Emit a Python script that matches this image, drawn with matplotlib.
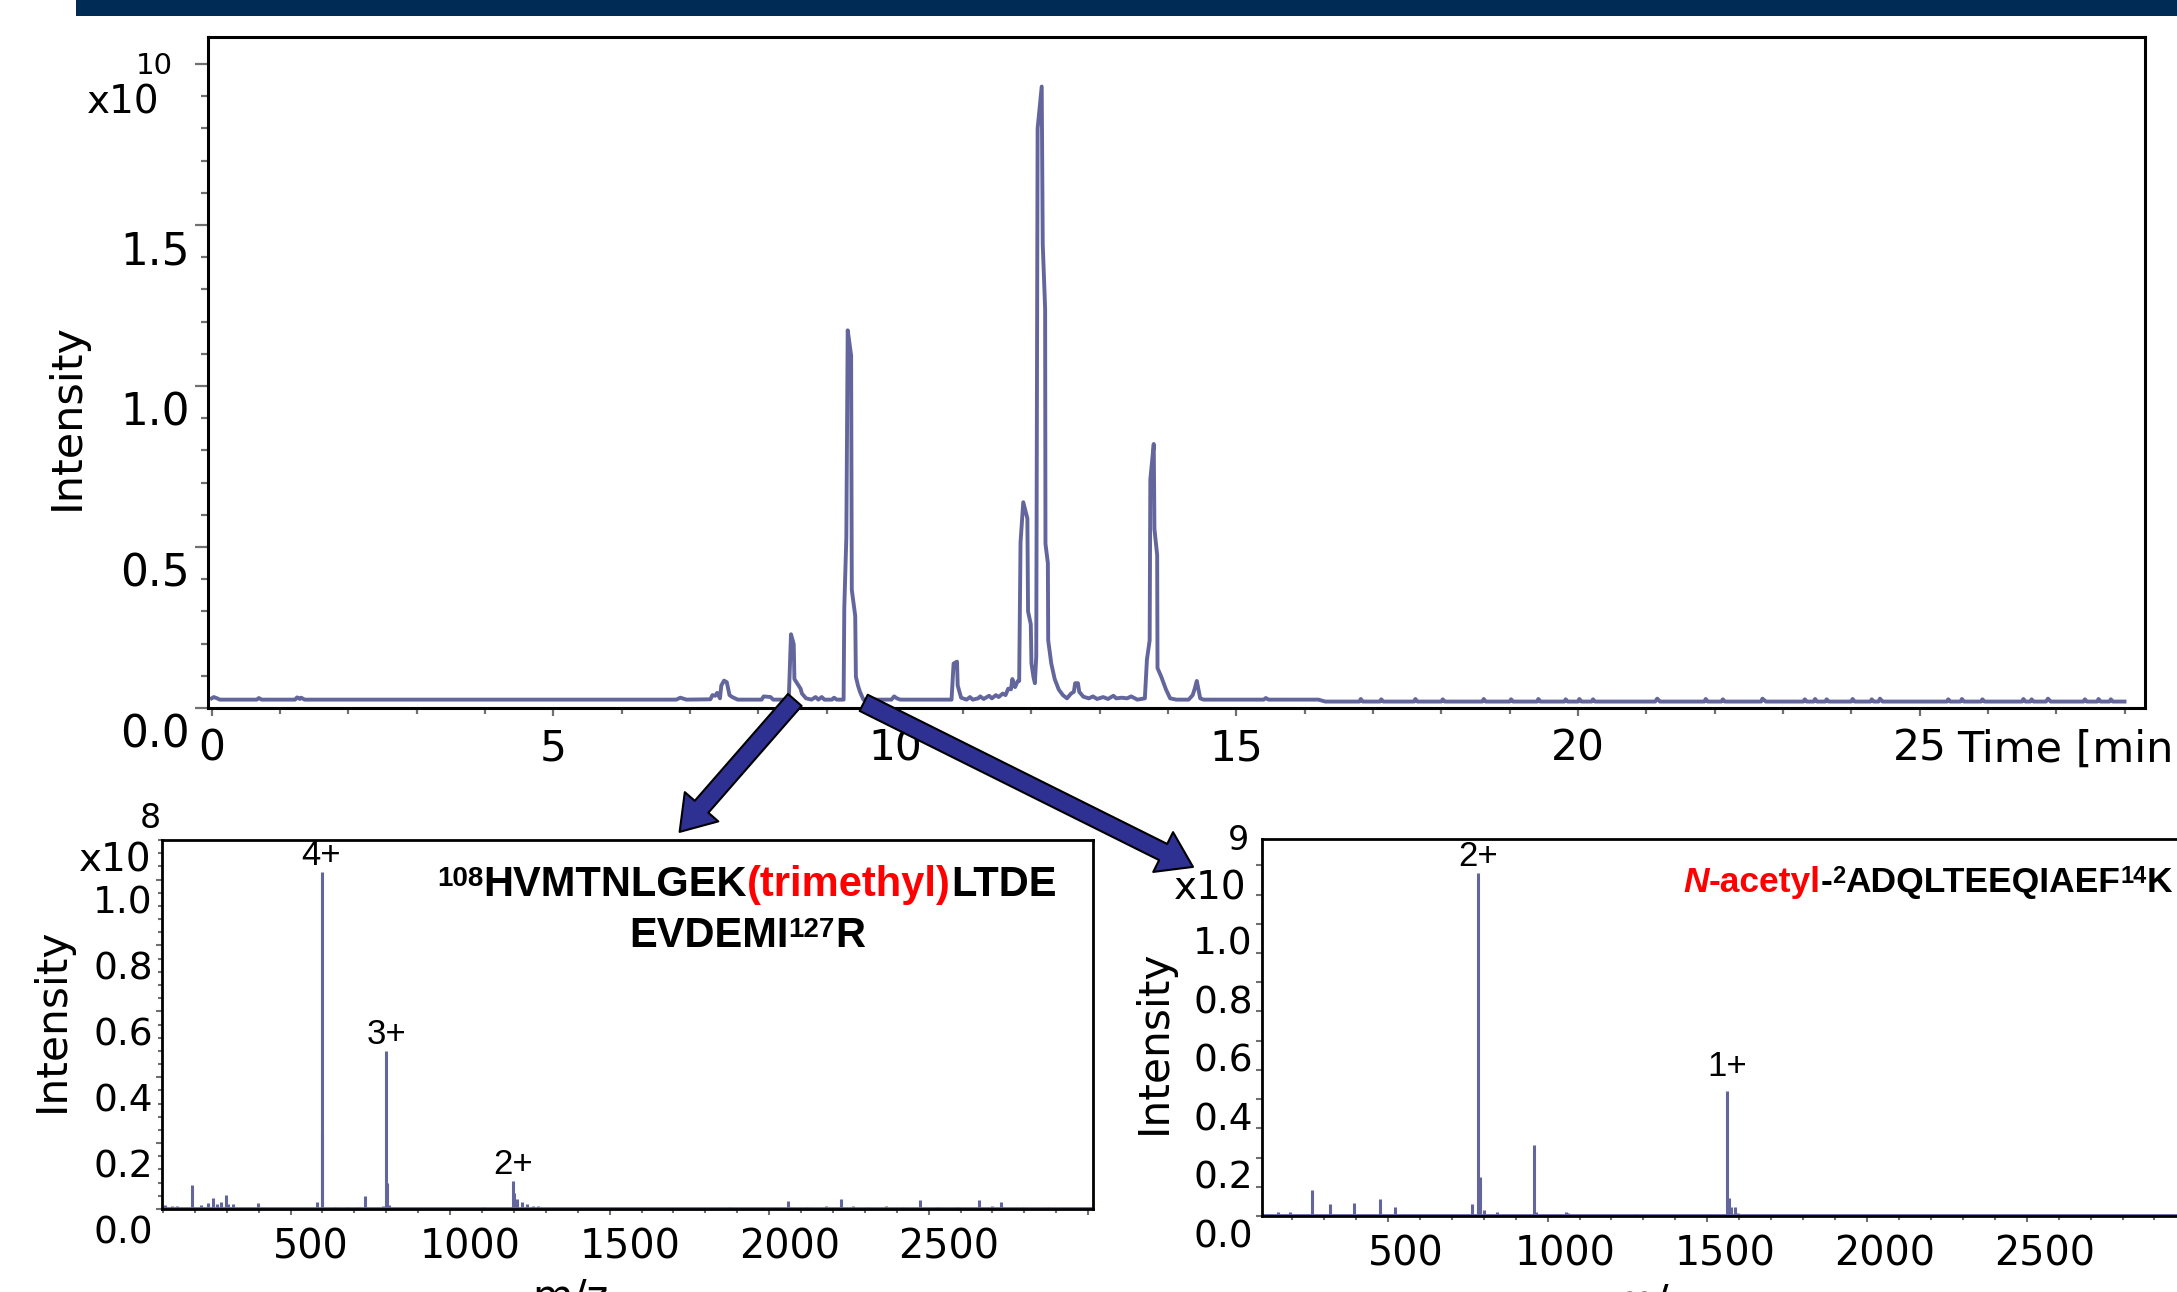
import matplotlib
matplotlib.use('Agg')
import matplotlib.pyplot as plt
from matplotlib.patches import Rectangle, ConnectionPatch, ArrowStyle
from matplotlib.ticker import FixedLocator, MultipleLocator
from matplotlib.transforms import ScaledTranslation, IdentityTransform

W, H = 2177, 1292
TRACE = '#62669c'
ARROW = '#2e3192'
BAR = '#002b54'
TICK = '#707070'
PEP_FONT = 'Liberation Sans'

# base peak chromatogram: time (min) and intensity (x1e10)
time_min = [0.00, 0.03, 0.08, 0.12, 0.66, 0.69, 0.73, 1.22, 1.25, 1.29, 1.31, 1.36,
            6.80, 6.86, 6.95, 7.30, 7.33, 7.37, 7.40, 7.44, 7.46, 7.50, 7.54, 7.58, 7.62, 7.70,
            8.05, 8.08, 8.18, 8.22, 8.40, 8.45, 8.48, 8.52, 8.53, 8.56, 8.59, 8.62, 8.64, 8.70,
            8.78, 8.84, 8.88, 8.93, 8.97, 9.08, 9.11, 9.15, 9.25, 9.26, 9.29, 9.31, 9.36, 9.37,
            9.42, 9.43, 9.46, 9.49, 9.54, 9.95, 9.99, 10.03, 10.08, 10.83, 10.86, 10.91, 10.92,
            10.97, 11.05, 11.10, 11.14, 11.22, 11.25, 11.30, 11.38, 11.42, 11.48, 11.52, 11.58,
            11.62, 11.66, 11.70, 11.72, 11.76, 11.80, 11.82, 11.84, 11.88, 11.94, 11.95, 11.99,
            12.00, 12.03, 12.05, 12.07, 12.09, 12.15, 12.165, 12.20, 12.205, 12.24, 12.245,
            12.29, 12.34, 12.40, 12.46, 12.52, 12.58, 12.62, 12.64, 12.68, 12.70, 12.76, 12.84,
            12.90, 12.96, 13.05, 13.12, 13.20, 13.24, 13.32, 13.40, 13.46, 13.55, 13.66, 13.69,
            13.73, 13.74, 13.79, 13.80, 13.84, 13.845, 13.90, 13.97, 14.03, 14.12, 14.30, 14.36,
            14.39, 14.42, 14.47, 14.52, 15.40, 15.43, 15.47, 16.20, 16.30,
            16.80, 16.82, 16.85, 17.10, 17.12, 17.15, 17.60, 17.62, 17.65, 18.00, 18.02, 18.05,
            18.60, 18.62, 18.65, 19.00, 19.02, 19.05, 19.40, 19.42, 19.45, 19.80, 19.82, 19.85,
            20.00, 20.02, 20.05, 20.20, 20.22, 20.25, 21.13, 21.16, 21.20, 21.85, 21.87, 21.90,
            22.10, 22.12, 22.15, 22.68, 22.70, 22.75, 23.30, 23.32, 23.35, 23.45, 23.47, 23.50,
            23.62, 23.64, 23.67, 24.00, 24.02, 24.05, 24.28, 24.30, 24.33, 24.40, 24.42, 24.46,
            25.40, 25.42, 25.45, 25.60, 25.62, 25.65, 25.90, 25.92, 25.95, 26.50, 26.52, 26.55,
            26.62, 26.64, 26.67, 26.85, 26.88, 26.92, 27.40, 27.42, 27.45, 27.60, 27.62, 27.65,
            27.78, 27.80, 27.83, 28.00]
intensity = [0.030, 0.034, 0.030, 0.026, 0.026, 0.031, 0.026, 0.026, 0.033, 0.028, 0.032, 0.026,
             0.026, 0.032, 0.026, 0.027, 0.040, 0.038, 0.047, 0.030, 0.070, 0.085, 0.080, 0.040, 0.034, 0.026,
             0.026, 0.036, 0.034, 0.026, 0.026, 0.043, 0.229, 0.198, 0.090, 0.080, 0.070, 0.060, 0.045, 0.030,
             0.026, 0.034, 0.026, 0.034, 0.026, 0.026, 0.032, 0.026, 0.026, 0.310, 0.530, 1.173, 1.095, 0.367,
             0.286, 0.097, 0.070, 0.050, 0.026, 0.026, 0.036, 0.030, 0.026, 0.026, 0.138, 0.144, 0.070,
             0.032, 0.026, 0.034, 0.026, 0.030, 0.036, 0.028, 0.038, 0.030, 0.040, 0.034, 0.045,
             0.040, 0.060, 0.058, 0.090, 0.065, 0.084, 0.084, 0.515, 0.639, 0.589, 0.300, 0.260,
             0.138, 0.095, 0.077, 0.160, 1.800, 1.930, 1.440, 1.240, 0.510, 0.450, 0.210,
             0.138, 0.090, 0.057, 0.040, 0.030, 0.045, 0.050, 0.077, 0.077, 0.050, 0.035, 0.030,
             0.036, 0.028, 0.034, 0.028, 0.038, 0.030, 0.032, 0.030, 0.036, 0.026, 0.030, 0.150,
             0.210, 0.710, 0.820, 0.556, 0.475, 0.124, 0.097, 0.057, 0.030, 0.026, 0.026, 0.040,
             0.060, 0.084, 0.030, 0.026, 0.026, 0.031, 0.026, 0.026, 0.020,
             0.020, 0.028, 0.020, 0.020, 0.027, 0.020, 0.020, 0.028, 0.020, 0.020, 0.027, 0.020,
             0.020, 0.028, 0.020, 0.020, 0.027, 0.020, 0.020, 0.028, 0.020, 0.020, 0.027, 0.020,
             0.020, 0.028, 0.020, 0.020, 0.027, 0.020, 0.020, 0.029, 0.020, 0.020, 0.028, 0.020,
             0.020, 0.027, 0.020, 0.020, 0.029, 0.020, 0.020, 0.027, 0.020, 0.020, 0.028, 0.020,
             0.020, 0.027, 0.020, 0.020, 0.028, 0.020, 0.020, 0.027, 0.020, 0.020, 0.029, 0.020,
             0.020, 0.027, 0.020, 0.020, 0.028, 0.020, 0.020, 0.027, 0.020, 0.020, 0.028, 0.020,
             0.020, 0.027, 0.020, 0.020, 0.029, 0.020, 0.020, 0.027, 0.020, 0.020, 0.028, 0.020,
             0.020, 0.027, 0.020, 0.020]
tic_xticks = [0, 5, 10, 15, 20, 25]
tic_xlabels = ['0', '5', '10', '15', '20', '25']
tic_yticks = [0.0, 0.5, 1.0, 1.5, 2.0]
tic_ylabels = ['0.0', '0.5', '1.0', '1.5', '']

# MS spectrum of the 8.5 min peak: m/z and intensity (x1e8)
ms1_mz = [107, 128, 145, 192, 220, 240, 258, 270, 283, 297, 305, 319, 397, 582, 597, 600, 640,
          680, 710, 734, 790, 800, 803, 810, 1105, 1196, 1200, 1210, 1225, 1240, 1260, 1275,
          1878, 1940, 2059, 2120, 2179, 2224, 2264, 2310, 2365, 2420, 2473, 2530, 2590, 2658,
          2700, 2726, 2797, 2873]
ms1_int = [0.012, 0.008, 0.010, 0.073, 0.012, 0.019, 0.032, 0.015, 0.020, 0.042, 0.014, 0.016,
           0.017, 0.020, 1.023, 0.230, 0.006, 0.006, 0.005, 0.039, 0.010, 0.480, 0.080, 0.012,
           0.005, 0.086, 0.050, 0.030, 0.020, 0.015, 0.010, 0.008, 0.005, 0.004, 0.025, 0.005,
           0.010, 0.030, 0.010, 0.006, 0.010, 0.005, 0.026, 0.005, 0.006, 0.026, 0.008, 0.020,
           0.007, 0.005]
ms1_charge = ['4+', '3+', '2+']
ms1_charge_mz = [597, 800, 1196]
ms1_charge_int = [1.023, 0.480, 0.086]

# MS spectrum of the 9.3 min peak: m/z and intensity (x1e9)
ms2_mz = [130, 157, 194, 263, 320, 394, 476, 522, 763, 782, 787, 800, 843, 957, 965, 1059,
          1065, 1272, 1280, 1509, 1563, 1568, 1575, 1587, 1595]
ms2_int = [0.008, 0.015, 0.015, 0.089, 0.040, 0.043, 0.058, 0.032, 0.040, 1.173, 0.135, 0.020,
           0.012, 0.243, 0.015, 0.015, 0.010, 0.008, 0.006, 0.008, 0.428, 0.060, 0.030, 0.032,
           0.010]
ms2_charge = ['2+', '1+']
ms2_charge_mz = [782, 1563]
ms2_charge_int = [1.173, 0.455]

ms_xticks = [500, 1000, 1500, 2000, 2500, 3000]
ms_xlabels = ['500', '1000', '1500', '2000', '2500', '']
ms_yticks = [0.0, 0.2, 0.4, 0.6, 0.8, 1.0]
ms_ylabels = ['0.0', '0.2', '0.4', '0.6', '0.8', '1.0']

fig = plt.figure(figsize=(W / 100, H / 100), dpi=100)
plt.rcParams['font.family'] = ['DejaVu Sans']


def add_axes_px(left, top, right, bottom):
    return fig.add_axes([left / W, 1 - bottom / H, (right - left) / W, (bottom - top) / H])


def px_text(x, y, s, **kw):
    return fig.text(x / W, 1 - y / H, s, **kw)


def shift(labels, dx, dy):
    off = ScaledTranslation(dx / 100, dy / 100, fig.dpi_scale_trans)
    for lab in labels:
        lab.set_transform(lab.get_transform() + off)


def style_frame(ax, lw):
    for sp in ax.spines.values():
        sp.set_linewidth(lw)
        sp.set_color('black')


def rich_line(x, y, parts, center=False):
    # parts: text, colour, size, rise in px, italic ; y is the baseline in px from top
    r = fig.canvas.get_renderer()
    items = []
    for s, col, size, rise, italic in parts:
        t = fig.text(0, 0, s, transform=IdentityTransform(), color=col, fontsize=size,
                     fontweight='bold', fontstyle='italic' if italic else 'normal',
                     family=PEP_FONT, ha='left', va='baseline')
        items.append((t, t.get_window_extent(r).width, rise))
    cx = x - sum(w for _, w, _ in items) / 2 if center else x
    for t, w, rise in items:
        t.set_position((cx, H - y + rise))
        cx += w


# header bar
fig.add_artist(Rectangle((76 / W, 1 - 16 / H), 1, 16 / H, transform=fig.transFigure,
                         color=BAR, lw=0))

# ---- chromatogram ----
ax = add_axes_px(208, 37, 2145, 708)
ax.plot(time_min, intensity, color=TRACE, lw=2.8)
ax.set_xlim(-0.054, 28.3)
ax.set_ylim(0, 2.084)
style_frame(ax, 2.2)
ax.xaxis.set_major_locator(FixedLocator(tic_xticks))
ax.xaxis.set_minor_locator(MultipleLocator(1))
ax.yaxis.set_major_locator(FixedLocator(tic_yticks))
ax.yaxis.set_minor_locator(MultipleLocator(0.1))
ax.set_xticklabels(tic_xlabels, fontsize=30.5)
ax.set_yticklabels(tic_ylabels, fontsize=31.5)
ax.tick_params(axis='x', which='major', length=6, width=1.6, color=TICK, pad=8)
ax.tick_params(axis='x', which='minor', length=4, width=1.6, color=TICK)
ax.tick_params(axis='y', which='major', length=9.5, width=1.6, color=TICK, pad=3.5)
ax.tick_params(axis='y', which='minor', length=5, width=1.6, color=TICK)
shift(ax.get_yticklabels(), 0, -22)
px_text(1957, 750, 'Time [min]', fontsize=31, ha='left', va='center')
px_text(67, 417, 'Intensity', fontsize=31, rotation=90, ha='center', va='center')
px_text(123, 102, 'x10', fontsize=28, ha='center', va='center')
px_text(154, 66, '10', fontsize=21, ha='center', va='center')

# ---- spectrum 1 ----
axl = add_axes_px(162, 840, 1093, 1209)
axl.vlines(ms1_mz, 0, ms1_int, color=TRACE, lw=2.2)
axl.axhline(0.004, color=TRACE, lw=2)
axl.set_xlim(97, 3015)
axl.set_ylim(0, 1.12)
style_frame(axl, 2)
axl.xaxis.set_major_locator(FixedLocator(ms_xticks))
axl.xaxis.set_minor_locator(MultipleLocator(100))
axl.yaxis.set_major_locator(FixedLocator(ms_yticks))
axl.yaxis.set_minor_locator(MultipleLocator(0.04))
axl.set_xticklabels(ms_xlabels, fontsize=28.5)
axl.set_yticklabels(ms_ylabels, fontsize=27)
axl.tick_params(which='major', length=4.5, width=1.5, color=TICK, pad=2)
axl.tick_params(which='minor', length=3, width=1.5, color=TICK)
axl.tick_params(axis='x', pad=9)
shift(axl.get_yticklabels(), 0, -20)
shift(axl.get_xticklabels(), 20, 0)
for lab, mz, h in zip(ms1_charge, ms1_charge_mz, ms1_charge_int):
    axl.annotate(lab, (mz, h), xytext=(0, 0), textcoords='offset points', ha='center',
                 va='bottom', fontsize=25, family=PEP_FONT)
px_text(52, 1020, 'Intensity', fontsize=30.5, rotation=90, ha='center', va='center')
px_text(115, 860, 'x10', fontsize=28, ha='center', va='center')
px_text(150, 819, '8', fontsize=24, ha='center', va='center')
px_text(570, 1277, 'm/z', fontsize=30, ha='center', va='top')

# ---- spectrum 2 ----
axr = add_axes_px(1262, 839, 1262 + 927.6, 1216)
axr.vlines(ms2_mz, 0, ms2_int, color=TRACE, lw=2.2)
axr.axhline(0.004, color=TRACE, lw=2)
axr.set_xlim(106, 3010)
axr.set_ylim(0, 1.29)
style_frame(axr, 2)
axr.xaxis.set_major_locator(FixedLocator(ms_xticks))
axr.xaxis.set_minor_locator(MultipleLocator(100))
axr.yaxis.set_major_locator(FixedLocator(ms_yticks))
axr.yaxis.set_minor_locator(MultipleLocator(0.1))
axr.set_xticklabels(ms_xlabels, fontsize=28.5)
axr.set_yticklabels(ms_ylabels, fontsize=27)
axr.tick_params(which='both', length=4.5, width=1.5, color=TICK, pad=2)
axr.tick_params(axis='x', which='minor', length=3)
axr.tick_params(axis='x', pad=9)
shift(axr.get_yticklabels(), 0, -17)
shift(axr.get_xticklabels(), 18, 0)
for lab, mz, h in zip(ms2_charge, ms2_charge_mz, ms2_charge_int):
    axr.annotate(lab, (mz, h), xytext=(0, 0), textcoords='offset points', ha='center',
                 va='bottom', fontsize=25, family=PEP_FONT)
px_text(1154, 1042, 'Intensity', fontsize=30.5, rotation=90, ha='center', va='center')
px_text(1210, 889, 'x10', fontsize=28, ha='center', va='center')
px_text(1238, 841, '9', fontsize=24, ha='center', va='center')
px_text(1652, 1282, 'm/z', fontsize=30, ha='center', va='top')

# peptide annotations
rich_line(747, 896, [('108', 'black', 20, 10, False), ('HVMTNLGEK', 'black', 30, 0, False),
                     ('(trimethyl)', 'red', 30, 0, False), ('LTDE', 'black', 30, 0, False)],
          center=True)
rich_line(747, 947, [('EVDEMI', 'black', 30, 0, False), ('127', 'black', 20, 10, False),
                     ('R', 'black', 30, 0, False)], center=True)
rich_line(1683, 892, [('N', 'red', 25.5, 0, True), ('-acetyl', 'red', 25.5, 0, False),
                      ('-', 'black', 25.5, 0, False), ('2', 'black', 17, 9, False),
                      ('ADQLTEEQIAEF', 'black', 25.5, 0, False), ('14', 'black', 17, 9, False),
                      ('K', 'black', 25.5, 0, False)])

# arrows from chromatogram peaks to their spectra
style = ArrowStyle('Simple', head_length=2.4, head_width=3.2, tail_width=1.3)
for (t0, y0), (xb, yb), target in [((8.536, 0.025), (0.556, 1.022), axl),
                                   ((9.544, 0.016), (-0.0744, 0.926), axr)]:
    con = ConnectionPatch(xyA=(t0, y0), coordsA=ax.transData, xyB=(xb, yb),
                          coordsB=target.transAxes, arrowstyle=style, mutation_scale=10,
                          fc=ARROW, ec='black', lw=1.5, zorder=10)
    fig.add_artist(con)

fig.savefig('out.png', dpi=100)
